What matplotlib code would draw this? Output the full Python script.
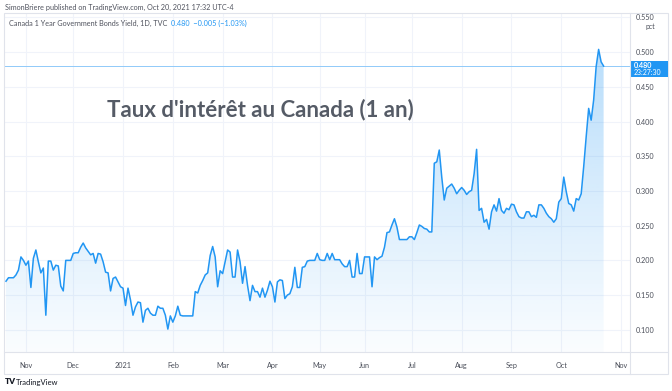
import numpy as np
import matplotlib
matplotlib.use("Agg")
import matplotlib.pyplot as plt
from matplotlib.patches import Rectangle, Polygon
from matplotlib.lines import Line2D

# ---------------- data ----------------
yields = [
    0.170, 0.175, 0.175, 0.175, 0.179, 0.186, 0.205, 0.200, 0.193, 0.199,
    0.161, 0.203, 0.215, 0.198, 0.182, 0.189, 0.121, 0.199, 0.199, 0.186,
    0.193, 0.192, 0.163, 0.156, 0.200, 0.200, 0.200, 0.210, 0.211, 0.211,
    0.219, 0.225, 0.218, 0.213, 0.208, 0.210, 0.196, 0.210, 0.209, 0.198,
    0.183, 0.182, 0.156, 0.174, 0.176, 0.169, 0.162, 0.160, 0.135, 0.160,
    0.143, 0.121, 0.133, 0.140, 0.139, 0.111, 0.128, 0.131, 0.124, 0.121,
    0.121, 0.134, 0.131, 0.131, 0.121, 0.101, 0.120, 0.111, 0.120, 0.134,
    0.121, 0.120, 0.120, 0.120, 0.120, 0.120, 0.155, 0.153, 0.164, 0.171,
    0.179, 0.182, 0.207, 0.220, 0.205, 0.162, 0.185, 0.181, 0.198, 0.215,
    0.212, 0.176, 0.176, 0.215, 0.198, 0.167, 0.191, 0.164, 0.142, 0.164,
    0.155, 0.155, 0.147, 0.160, 0.147, 0.157, 0.170, 0.162, 0.140, 0.169,
    0.172, 0.171, 0.145, 0.150, 0.152, 0.162, 0.190, 0.161, 0.161, 0.190,
    0.191, 0.199, 0.200, 0.200, 0.200, 0.210, 0.201, 0.200, 0.200, 0.210,
    0.201, 0.210, 0.201, 0.201, 0.201, 0.195, 0.191, 0.191, 0.200, 0.176,
    0.176, 0.210, 0.181, 0.181, 0.205, 0.205, 0.205, 0.162, 0.205, 0.201,
    0.204, 0.206, 0.219, 0.240, 0.241, 0.251, 0.260, 0.248, 0.230, 0.230,
    0.230, 0.230, 0.234, 0.234, 0.230, 0.240, 0.251, 0.249, 0.246, 0.245,
    0.241, 0.241, 0.340, 0.342, 0.359, 0.320, 0.287, 0.304, 0.307, 0.310,
    0.304, 0.296, 0.301, 0.305, 0.301, 0.295, 0.299, 0.301, 0.325, 0.360,
    0.272, 0.275, 0.255, 0.259, 0.245, 0.270, 0.280, 0.271, 0.289, 0.272,
    0.268, 0.275, 0.273, 0.281, 0.280, 0.270, 0.263, 0.261, 0.261, 0.270,
    0.270, 0.263, 0.265, 0.262, 0.280, 0.280, 0.275, 0.268, 0.263, 0.260,
    0.255, 0.260, 0.284, 0.289, 0.320, 0.299, 0.282, 0.280, 0.271, 0.289,
    0.287, 0.296, 0.335, 0.378, 0.419, 0.402, 0.431, 0.479, 0.504, 0.486,
    0.480,
]
month_labels = ["Nov", "Dec", "2021", "Feb", "Mar", "Apr", "May", "Jun",
                "Jul", "Aug", "Sep", "Oct", "Nov"]
month_pos = [8, 27, 47, 67, 87, 107, 126, 144, 163, 183, 203, 223, 247]
ytick_vals = [0.100, 0.150, 0.200, 0.250, 0.300, 0.350, 0.400, 0.450, 0.500, 0.550]
last_value = 0.480
title_text = "Taux d'intérêt au Canada (1 an)"

# ---------------- figure ----------------
W, H = 672, 391
fig = plt.figure(figsize=(W / 100, H / 100), dpi=100)
fig.patch.set_facecolor("white")
FONT = ["Lato", "DejaVu Sans"]
GREY = "#4a4e59"
LBLUE = "#2196f3"

def px(x, y):
    return x / W, 1 - y / H

L, R, T, B = 4, 630, 14, 352
ax = fig.add_axes([L / W, 1 - B / H, (R - L) / W, (B - T) / H])
x = np.arange(len(yields))
y = np.array(yields)

ymin, ymax = 0.068, 0.555
ax.set_ylim(ymin, ymax)
ax.set_xlim(-0.8, 250.6)

# gradient fill under line
grad = np.linspace(0, 1, 256).reshape(-1, 1)
rgba = np.zeros((256, 1, 4))
rgba[..., 0] = 33 / 255
rgba[..., 1] = 150 / 255
rgba[..., 2] = 243 / 255
rgba[..., 3] = (0.02 + 0.30 * grad).reshape(-1, 1)
im = ax.imshow(rgba, aspect="auto", origin="lower",
               extent=[x[0], x[-1], ymin, 0.51], zorder=1)
poly = Polygon(np.vstack([np.column_stack([x, y]),
                          [[x[-1], ymin], [x[0], ymin]]]),
               closed=True, facecolor="none", edgecolor="none")
ax.add_patch(poly)
im.set_clip_path(poly)

ax.plot(x, y, color=LBLUE, lw=1.1, zorder=3, solid_joinstyle="round")
ax.axhline(last_value, color="#90caf9", lw=0.7, zorder=2)

# grid
for v in ytick_vals:
    ax.axhline(v, color="#f0f3fa", lw=0.8, zorder=0)
for p in month_pos:
    ax.axvline(p, color="#f0f3fa", lw=0.8, zorder=0)

ax.set_yticks(ytick_vals)
ax.set_yticklabels([f"{v:.3f}" for v in ytick_vals])
ax.yaxis.tick_right()
ax.set_xticks(month_pos)
ax.set_xticklabels(month_labels)
ax.tick_params(axis="both", length=0, labelsize=5.2, labelcolor=GREY)
ax.tick_params(axis="y", pad=4)
ax.tick_params(axis="x", pad=7)
for lab in ax.get_xticklabels() + ax.get_yticklabels():
    lab.set_fontfamily(FONT)
for s in ax.spines.values():
    s.set_visible(False)
ax.set_facecolor("none")

# title in plot
ax.text(0.409, 0.717, title_text, transform=ax.transAxes, ha="center",
        va="center", fontsize=16, fontweight="bold", color="#555b66",
        family=FONT, zorder=5)

# frame lines
border = "#e0e3eb"
fig.add_artist(Rectangle(px(4, 374), (668 - 4) / W, (374 - 13) / H,
                         transform=fig.transFigure, fill=False,
                         edgecolor=border, lw=0.8))
fig.add_artist(Line2D([4 / W, 668 / W], [1 - B / H, 1 - B / H],
                      transform=fig.transFigure, color=border, lw=0.8))
fig.add_artist(Line2D([R / W, R / W], [1 - 374 / H, 1 - 13 / H],
                      transform=fig.transFigure, color=border, lw=0.8))

# header texts
fig.text(*px(5, 7), "SimonBriere published on TradingView.com, Oct 20, 2021 17:32 UTC-4",
         fontsize=5.2, color="#50535e", va="center", ha="left", family=FONT)
t1 = fig.text(*px(9, 23), "Canada 1 Year Government Bonds Yield, 1D, TVC  ",
              fontsize=5.2, color="#50535e", va="center", ha="left", family=FONT)
fig.canvas.draw()
bb = t1.get_window_extent()
fig.text(bb.x1 / W, 1 - 23 / H, "0.480  \u22120.005 (\u22121.03%)",
         fontsize=5.2, color=LBLUE, va="center", ha="left", family=FONT)

# pct label under top tick
fig.text(*px(646, 26), "pct", fontsize=5.0, color=GREY, va="center",
         ha="left", family=FONT)

# last price tag
fig.add_artist(Rectangle(px(630, 77), 38 / W, 16 / H, transform=fig.transFigure,
                         facecolor=LBLUE, edgecolor="none"))
fig.text(*px(634, 65), f"{last_value:.3f}", fontsize=5.2, color="white",
         va="center", ha="left", family=FONT, fontweight="bold")
fig.text(*px(634, 72.5), "23:27:30", fontsize=5.0, color="white",
         va="center", ha="left", family=FONT)

# footer logo
fig.text(*px(5, 382), "TV", fontsize=6, color="#131722", va="center",
         ha="left", fontweight="heavy", family=FONT)
fig.text(*px(16, 382), "TradingView", fontsize=5.5, color="#131722",
         va="center", ha="left", family=FONT)

fig.savefig("out.png", dpi=100, facecolor="white")
